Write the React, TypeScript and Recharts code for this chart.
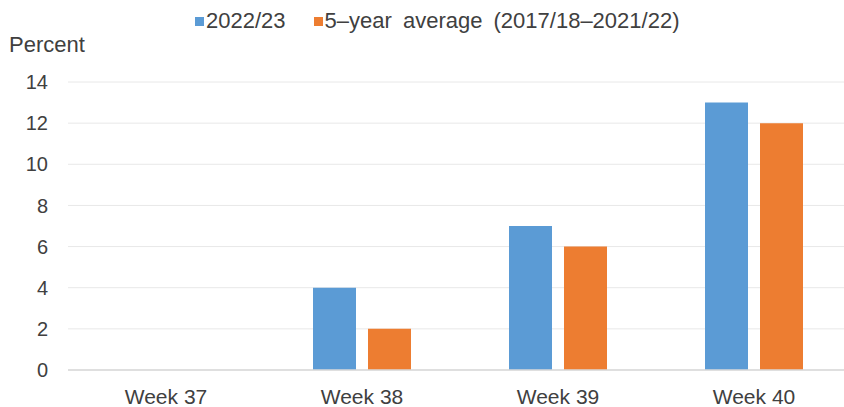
import React from "react";
import { BarChart, Bar, XAxis, YAxis, CartesianGrid } from "recharts";

// Categories and series values
const weeks = ["Week 37", "Week 38", "Week 39", "Week 40"];
const season2022 = [0, 4, 7, 13];
const fiveYearAvg = [0, 2, 6, 12];
const yTicks = [0, 2, 4, 6, 8, 10, 12, 14];
const seriesNames = ["2022/23", "5\u2013year average (2017/18\u20132021/22)"];
const seriesColors = ["#5B9BD5", "#ED7D31"];

const data = weeks.map((week, i) => ({
  week,
  current: season2022[i],
  average: fiveYearAvg[i],
}));

const FONT = "'Liberation Sans', Arial, sans-serif";
const TEXT = "#404040";

export default function App() {
  return (
    <div
      style={{
        position: "absolute",
        left: 0,
        top: 0,
        width: 844,
        height: 407,
        overflow: "hidden",
        background: "#fff",
        fontFamily: FONT,
      }}
    >
      {/* Legend */}
      <div
        style={{
          position: "absolute",
          left: 195,
          top: 8,
          display: "flex",
          alignItems: "center",
          fontSize: 22,
          lineHeight: "26px",
          color: TEXT,
          wordSpacing: 5,
          whiteSpace: "nowrap",
        }}
      >
        {seriesNames.map((name, i) => (
          <div key={name} style={{ display: "flex", alignItems: "center", marginRight: 28 }}>
            <span
              style={{
                display: "inline-block",
                width: 9,
                height: 9,
                background: seriesColors[i],
                marginRight: 2,
              }}
            />
            <span>{name}</span>
          </div>
        ))}
      </div>

      {/* Axis unit label */}
      <div
        style={{
          position: "absolute",
          left: 9,
          top: 32,
          fontSize: 22,
          lineHeight: "26px",
          color: TEXT,
        }}
      >
        Percent
      </div>

      <BarChart
        width={852}
        height={407}
        data={data}
        margin={{ top: 82, right: 0, bottom: 0, left: 0 }}
        barCategoryGap="25%"
        barGap={12}
      >
        <CartesianGrid vertical={false} stroke="#e8e8e8" strokeWidth={1} />
        <XAxis
          dataKey="week"
          height={37}
          tickLine={false}
          tickSize={0}
          tickMargin={19}
          axisLine={{ stroke: "#d9d9d9", strokeWidth: 1.5 }}
          tick={{ fill: TEXT, fontSize: 21, fontFamily: FONT }}
          interval={0}
        />
        <YAxis
          width={68}
          domain={[0, 14]}
          ticks={yTicks}
          axisLine={false}
          tickLine={false}
          tickSize={0}
          tickMargin={20}
          tick={{ fill: TEXT, fontSize: 20, fontFamily: FONT }}
          interval={0}
        />
        <Bar dataKey="current" name={seriesNames[0]} fill={seriesColors[0]} isAnimationActive={false} />
        <Bar dataKey="average" name={seriesNames[1]} fill={seriesColors[1]} isAnimationActive={false} />
      </BarChart>
    </div>
  );
}
